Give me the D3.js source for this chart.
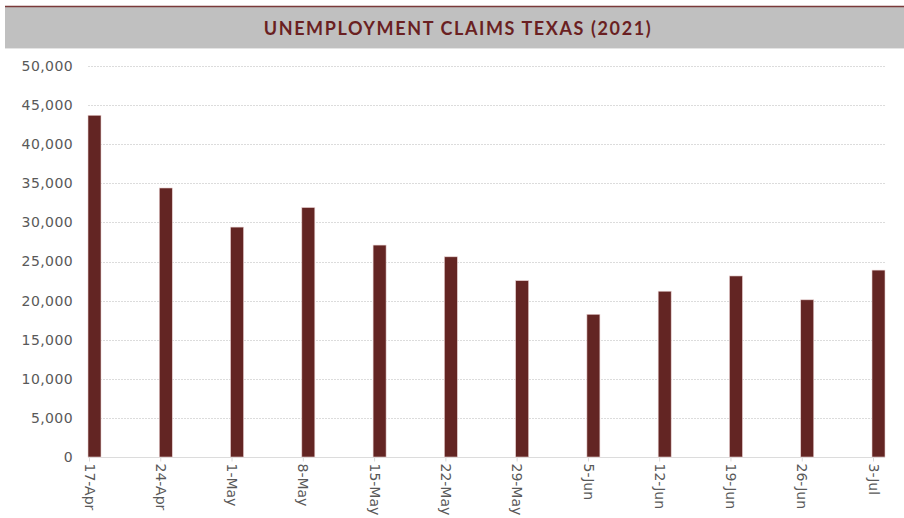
<!DOCTYPE html>
<html>
<head>
<meta charset="utf-8">
<script src="https://cdn.jsdelivr.net/npm/d3@7"></script>
<style>
  body { margin: 0; background: #fff; }
  svg { display: block; }
</style>
</head>
<body>
<figure id="claims" style="margin:0"></figure>
<script>
const categories = ["17-Apr", "24-Apr", "1-May", "8-May", "15-May", "22-May", "29-May", "5-Jun", "12-Jun", "19-Jun", "26-Jun", "3-Jul"];
const claims = [43700, 34400, 29400, 31900, 27100, 25600, 22550, 18250, 21200, 23150, 20100, 23900];
const yTicks = [0, 5000, 10000, 15000, 20000, 25000, 30000, 35000, 40000, 45000, 50000];
const titleText = "UNEMPLOYMENT CLAIMS TEXAS (2021)";

const W = 904, H = 518;
const plotLeft = 88, plotRight = 885, plotTop = 66, plotBottom = 457;
const barW = 13;

const svg = d3.select("figure#claims")
  .append("svg")
  .attr("width", W)
  .attr("height", H);

// title band
svg.append("rect")
  .attr("x", 5).attr("y", 7).attr("width", W - 5).attr("height", 41)
  .attr("fill", "#c0c0c0");
svg.append("line")
  .attr("x1", 5).attr("x2", W).attr("y1", 6.5).attr("y2", 6.5)
  .attr("stroke", "#7a3a3a").attr("stroke-width", 1.5);
svg.append("line")
  .attr("x1", 5).attr("x2", W).attr("y1", 48.5).attr("y2", 48.5)
  .attr("stroke", "#e4e4e4").attr("stroke-width", 1);
svg.append("text")
  .attr("x", 458).attr("y", 35)
  .attr("text-anchor", "middle")
  .style("font-family", "Lato, 'Open Sans', sans-serif")
  .style("font-weight", "bold")
  .style("font-size", "18px")
  .style("letter-spacing", "1.6px")
  .attr("fill", "#6a1f22")
  .text(titleText);

// scales
const y = d3.scaleLinear().domain([0, 50000]).range([plotBottom, plotTop]);
const x = d3.scalePoint().domain(categories).range([89, 873]);

// gridlines
svg.append("g")
  .selectAll("line")
  .data(yTicks)
  .enter()
  .append("line")
  .attr("x1", plotLeft).attr("x2", plotRight)
  .attr("y1", d => Math.round(y(d)) + 0.5)
  .attr("y2", d => Math.round(y(d)) + 0.5)
  .attr("stroke", "#dcdcdc")
  .attr("stroke-width", 1)
  .attr("stroke-dasharray", d => d === 0 ? null : "2,1");

// y axis labels
const yAxis = svg.append("g")
  .attr("transform", "translate(" + plotLeft + ",0)")
  .call(d3.axisLeft(y).tickValues(yTicks).tickSize(0).tickPadding(15).tickFormat(d3.format(",")));
yAxis.select(".domain").remove();
yAxis.selectAll("text")
  .style("font-family", "'DejaVu Sans', sans-serif")
  .style("font-size", "14px")
  .style("letter-spacing", "0.4px")
  .attr("fill", "#595959");

// bars
svg.append("g")
  .selectAll("rect")
  .data(claims)
  .enter()
  .append("rect")
  .attr("x", (d, i) => x(categories[i]) - 1)
  .attr("y", d => y(d))
  .attr("width", barW)
  .attr("height", d => plotBottom - y(d))
  .attr("fill", "#632523")
  .attr("stroke", "#e8d0d0")
  .attr("stroke-width", 0.6);

// x axis
const xAxis = svg.append("g")
  .attr("transform", "translate(0," + (plotBottom + 0.5) + ")")
  .call(d3.axisBottom(x).tickSize(4).tickPadding(5));
xAxis.select(".domain").remove();
xAxis.selectAll("line").attr("stroke", "#d9d9d9");
xAxis.selectAll("text")
  .style("font-family", "'DejaVu Sans', sans-serif")
  .style("font-size", "14px")
  .attr("fill", "#595959")
  .attr("transform", "rotate(90)")
  .attr("x", 6)
  .attr("y", 0)
  .attr("dy", "0.35em")
  .style("text-anchor", "start");
</script>
</body>
</html>
